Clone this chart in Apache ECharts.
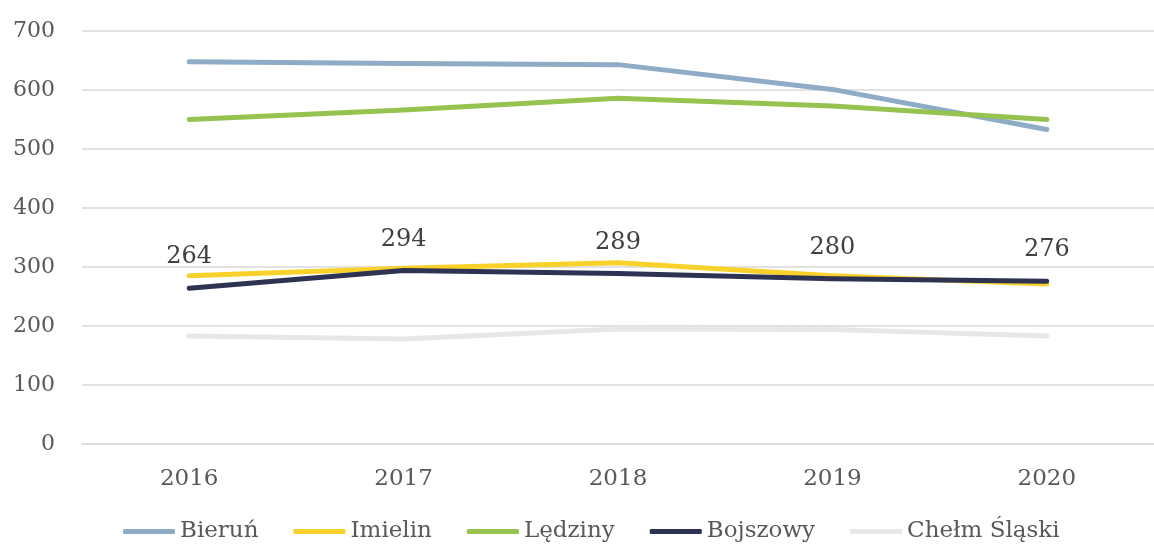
<!DOCTYPE html>
<html>
<head>
<meta charset="utf-8">
<script src="https://cdn.jsdelivr.net/npm/echarts@6/dist/echarts.min.js"></script>
<style>
  html, body { margin: 0; padding: 0; background: #fff; }
  #chart { width: 1154px; height: 550px; }
</style>
</head>
<body>
<div id="chart"></div>
<script>
const years = ['2016', '2017', '2018', '2019', '2020'];
const bierun = [648, 645, 643, 601, 533];
const imielin = [285, 298, 307, 285, 271];
const ledziny = [550, 566, 586, 573, 550];
const bojszowy = [264, 294, 289, 280, 276];
const chelm = [183, 178, 195, 194, 183];

const font = '"DejaVu Serif", "Liberation Serif", serif';

const makeLine = (name, data, color, withLabels) => ({
  name: name,
  type: 'line',
  data: data,
  symbol: 'circle',
  symbolSize: 0,
  showSymbol: true,
  lineStyle: { width: 5, color: color, cap: 'round', join: 'round' },
  itemStyle: { color: color },
  label: withLabels
    ? { show: true, position: 'top', distance: 19, fontFamily: font, fontSize: 24, color: '#404040' }
    : { show: false },
});

const chart = echarts.init(document.getElementById('chart'));
chart.setOption({
  backgroundColor: '#fff',
  animation: false,
  grid: { left: 82, top: 31, width: 1083, height: 413, containLabel: false },
  legend: {
    bottom: 2,
    left: 118,
    itemWidth: 52,
    itemHeight: 5,
    itemGap: 35,
    icon: 'roundRect',
    textStyle: { fontFamily: font, fontSize: 23, color: '#595959', padding: [0, 0, 0, 0] },
    data: ['Bieruń', 'Imielin', 'Lędziny', 'Bojszowy', 'Chełm Śląski'],
  },
  xAxis: {
    type: 'category',
    data: years,
    boundaryGap: true,
    axisLine: { show: true, lineStyle: { color: '#D9D9D9', width: 1.5 } },
    axisTick: { show: false },
    axisLabel: { fontFamily: font, fontSize: 23, color: '#595959', margin: 24 },
  },
  yAxis: {
    type: 'value',
    min: 0,
    max: 700,
    interval: 100,
    axisLine: { show: false },
    axisTick: { show: false },
    splitLine: { lineStyle: { color: '#D9D9D9', width: 1.5 } },
    axisLabel: { fontFamily: font, fontSize: 22, color: '#595959', margin: 27 },
  },
  series: [
    makeLine('Chełm Śląski', chelm, '#E6E7E8', false),
    makeLine('Bieruń', bierun, '#8EACC5', false),
    makeLine('Lędziny', ledziny, '#96C24F', false),
    makeLine('Imielin', imielin, '#F9D12B', false),
    makeLine('Bojszowy', bojszowy, '#2E3354', true),
  ],
});
</script>
</body>
</html>
